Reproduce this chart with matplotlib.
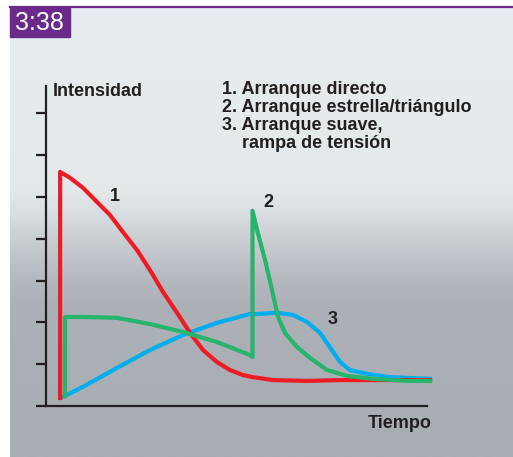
import numpy as np
import matplotlib
matplotlib.use('Agg')
import matplotlib.pyplot as plt

# DATA ------------------------------------------------------------------------
# 1. Arranque directo
t_directo = [0.37, 0.37, 0.63, 0.97, 1.34, 1.68, 2.02, 2.39, 2.73, 3.07, 3.44,
             3.78, 4.12, 4.49, 4.83, 5.17, 5.43, 5.96, 6.85, 7.72, 8.58, 10.08]
i_directo = [0.19, 5.60, 5.46, 5.22, 4.88, 4.57, 4.16, 3.73, 3.25, 2.73, 2.23,
             1.75, 1.34, 1.05, 0.86, 0.74, 0.69, 0.62, 0.60, 0.62, 0.62, 0.62]

# 2. Arranque estrella/triangulo
t_estrella = [0.50, 0.50, 0.97, 1.86, 2.73, 3.60, 4.49, 5.35, 5.42, 5.42, 5.56,
              5.75, 5.93, 6.09, 6.27, 6.59, 6.93, 7.38, 7.90, 8.58, 9.48, 10.08]
i_estrella = [0.24, 2.13, 2.13, 2.11, 1.96, 1.77, 1.53, 1.22, 1.17, 4.67, 4.14,
              3.49, 2.78, 2.13, 1.75, 1.41, 1.15, 0.86, 0.72, 0.65, 0.60, 0.60]

# 3. Arranque suave, rampa de tension
t_suave = [0.45, 0.97, 1.86, 2.73, 3.60, 4.49, 5.35, 5.54, 6.06, 6.48, 6.85,
           7.19, 7.45, 7.72, 7.98, 8.43, 9.03, 10.08]
i_suave = [0.22, 0.46, 0.91, 1.34, 1.70, 1.99, 2.20, 2.20, 2.23, 2.18, 2.01,
           1.75, 1.41, 1.05, 0.86, 0.77, 0.69, 0.65]

y_ticks = [0, 1, 2, 3, 4, 5, 6, 7]
leyenda = ['1. Arranque directo', '2. Arranque estrella/triángulo',
           '3. Arranque suave,', '    rampa de tensión']
etiquetas = ['1', '2', '3']
# END DATA --------------------------------------------------------------------

W, H = 513, 457
fig = plt.figure(figsize=(W / 100, H / 100), dpi=100)
fig.patch.set_facecolor('white')

def fx(px):
    return px / W

def fy(py):
    return 1 - py / H

# background panel with vertical gradient
bg = fig.add_axes([fx(10), 0, 1 - fx(10), fy(8)])
bg.set_axis_off()
ys = np.linspace(8, 457, 400)
stops_y = [8, 190, 215, 245, 275, 305, 457]
stops_c = [np.array(c) / 255 for c in [(231, 237, 240), (227, 232, 235), (216, 221, 225),
                                        (199, 203, 208), (183, 187, 193), (172, 176, 183),
                                        (168, 172, 179)]]
grad = np.zeros((len(ys), 1, 3))
for k in range(3):
    grad[:, 0, k] = np.interp(ys, stops_y, [c[k] for c in stops_c])
bg.imshow(grad, aspect='auto', extent=[0, 1, 0, 1])
bg.set_xlim(0, 1)
bg.set_ylim(0, 1)

purple = '#6b2a8b'
# top purple rule and number box
fig.add_artist(plt.Line2D([fx(10), 1], [fy(7), fy(7)], color=purple, lw=1.6))
fig.add_artist(plt.Rectangle((fx(10), fy(37)), fx(60), fy(7) - fy(37),
                             color=purple, transform=fig.transFigure))
fig.text(fx(39), fy(23), '3:38', color='white', ha='center', va='center',
         fontsize=18, family=['Liberation Sans', 'DejaVu Sans'])

# chart axes: origin at pixel (46, 406)
ax = fig.add_axes([fx(46), fy(406), fx(381), fy(86) - fy(406)])
ax.patch.set_alpha(0)
ax.set_xlim(0, 10)
ax.set_ylim(0, 320 / 41.8)
dark = '#231f20'
for s in ['top', 'right']:
    ax.spines[s].set_visible(False)
for s in ['left', 'bottom']:
    ax.spines[s].set_color(dark)
    ax.spines[s].set_linewidth(1.6)
ax.set_xticks([])
ax.set_yticks(y_ticks)
ax.set_yticklabels([])
ax.tick_params(axis='y', length=7, width=1.6, color=dark)

lw = 3.0
ax.plot(t_suave, i_suave, color='#00aeef', lw=lw, clip_on=False, solid_joinstyle='round')
ax.plot(t_directo, i_directo, color='#ed1c24', lw=lw, clip_on=False, solid_joinstyle='round')
ax.plot(t_estrella, i_estrella, color='#27b46c', lw=lw, clip_on=False, solid_joinstyle='round')

font = ['Liberation Sans', 'DejaVu Sans']
fs = 13
fig.text(fx(53), fy(91), 'Intensidad', ha='left', va='center', fontsize=fs,
         fontweight='bold', color=dark, family=font)
fig.text(fx(432), fy(423), 'Tiempo', ha='right', va='center', fontsize=fs,
         fontweight='bold', color=dark, family=font)
for k, line in enumerate(leyenda):
    fig.text(fx(222), fy(90 + 18 * k), line, ha='left', va='center', fontsize=fs,
             fontweight='bold', color=dark, family=font)

for lab, (px, py) in zip(etiquetas, [(115, 197), (268, 203), (333, 320)]):
    fig.text(fx(px), fy(py), lab, ha='center', va='center', fontsize=fs,
             fontweight='bold', color=dark, family=font)

fig.savefig('out.png', dpi=100)
